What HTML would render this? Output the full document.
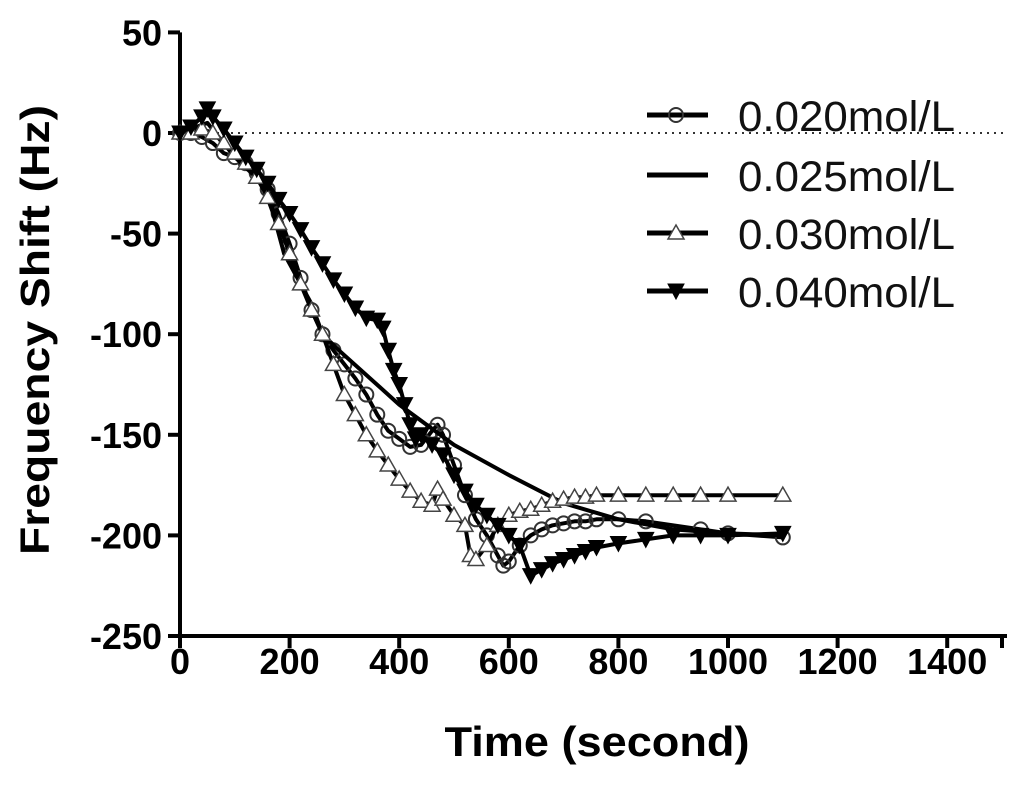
<!DOCTYPE html>
<html><head><meta charset="utf-8"><style>
body{margin:0;background:#fff;}
svg text{font-family:"Liberation Sans",Arial,sans-serif;}
</style></head><body>
<svg id="chart" width="1024" height="780" viewBox="0 0 1024 780" xmlns="http://www.w3.org/2000/svg">
<g id="axes"></g><g id="series"></g><g id="legend"></g>
</svg>
<script>
const xTicks=[0,200,400,600,800,1000,1200,1400];
const yTicks=[50,0,-50,-100,-150,-200,-250];
const t020=[0,20,40,60,80,100,120,140,160,180,200,220,240,260,280,300,320,340,360,380,400,420,440,460,470,480,500,520,540,560,580,590,600,620,640,660,680,700,720,740,760,800,850,950,1000,1100];
const v020=[0,0,-2,-5,-10,-12,-15,-20,-28,-40,-55,-72,-88,-100,-108,-115,-122,-130,-140,-148,-152,-156,-155,-148,-145,-150,-165,-180,-192,-200,-210,-215,-213,-205,-200,-197,-195,-194,-193,-193,-192,-192,-193,-197,-199,-201];
const t025=[0,50,100,150,170,190,210,240,260,290,400,500,600,700,800,900,1000,1100];
const v025=[0,5,-12,-25,-40,-60,-70,-85,-100,-108,-135,-155,-170,-184,-192,-197,-199,-200];
const t030=[0,20,40,60,80,100,120,140,160,180,200,220,240,260,280,300,320,340,360,380,400,420,440,460,470,480,500,520,530,540,560,580,600,620,640,660,680,700,720,740,760,800,850,900,950,1000,1100];
const v030=[0,0,2,0,-5,-10,-15,-22,-32,-45,-60,-75,-88,-100,-115,-130,-140,-150,-158,-165,-172,-178,-183,-185,-177,-182,-190,-195,-210,-212,-205,-195,-190,-188,-187,-185,-183,-182,-181,-181,-180,-180,-180,-180,-180,-180,-180];
const t040=[0,20,40,50,60,80,100,120,140,160,180,200,220,240,260,280,300,320,340,360,370,380,390,400,410,420,430,440,460,480,500,520,540,560,580,600,620,640,660,680,700,720,740,760,800,850,900,950,1000,1100];
const v040=[0,3,8,12,8,2,-5,-12,-18,-25,-33,-40,-48,-57,-65,-73,-80,-87,-92,-93,-97,-108,-118,-125,-135,-145,-152,-150,-155,-160,-170,-178,-185,-190,-195,-200,-205,-220,-217,-214,-212,-210,-208,-206,-204,-202,-200,-200,-200,-199];
const labels=["0.020mol/L","0.025mol/L","0.030mol/L","0.040mol/L"];

const NS="http://www.w3.org/2000/svg";
const X=t=>180+t*0.548;
const Y=v=>133-v*2.012;
function mk(tag,attrs,parent){const e=document.createElementNS(NS,tag);for(const k in attrs)e.setAttribute(k,attrs[k]);parent.appendChild(e);return e;}
const axes=document.getElementById('axes'),ser=document.getElementById('series'),leg=document.getElementById('legend');

let a=mk('line',{x1:180,y1:Y(50),x2:180,y2:Y(-250)+2,stroke:'#000','stroke-width':4},axes);


a=mk('line',{x1:178,y1:Y(-250),x2:1007,y2:Y(-250),stroke:'#000','stroke-width':4},axes);


a=mk('line',{x1:182,y1:Y(0),x2:1007,y2:Y(0),stroke:'#333','stroke-width':2,'stroke-dasharray':'2,5'},axes);


yTicks.forEach(v=>{
 let l=mk('line',{x1:168,y1:Y(v),x2:180,y2:Y(v),stroke:'#000','stroke-width':4},axes);
 
 
 let tx=mk('text',{x:162,y:Y(v)+13,'text-anchor':'end','font-size':36,'font-weight':'bold'},axes);
 tx.textContent=v;
 
 
});
xTicks.concat([1500]).forEach(t=>{
 let l=mk('line',{x1:X(t),y1:Y(-250),x2:X(t),y2:Y(-250)+12,stroke:'#000','stroke-width':4},axes);
 
 
});
xTicks.forEach(t=>{
 let tx=mk('text',{x:X(t),y:674,'text-anchor':'middle','font-size':36,'font-weight':'bold'},axes);
 tx.textContent=t;
 
 
});
let xt=mk('text',{x:597,y:756,'text-anchor':'middle','font-size':42,'font-weight':'bold',textLength:305,lengthAdjust:'spacingAndGlyphs'},axes);
xt.textContent='Time (second)';


let yt=mk('text',{x:0,y:0,'text-anchor':'middle','font-size':41,'font-weight':'bold',textLength:450,lengthAdjust:'spacingAndGlyphs',transform:'translate(49,330) rotate(-90)'},axes);
yt.textContent='Frequency Shift (Hz)';



function marker(type,x,y,g){
 let m;
 if(type==='circle')m=mk('circle',{cx:x,cy:y,r:7,fill:'#fff','fill-opacity':0,stroke:'#333','stroke-width':2},g);
 else if(type==='tri')m=mk('path',{d:`M${x},${y-8}L${x+8},${y+6}L${x-8},${y+6}Z`,fill:'#fff',stroke:'#444','stroke-width':1.5},g);
 else if(type==='dtri')m=mk('path',{d:`M${x-8},${y-7}L${x+8},${y-7}L${x},${y+8}Z`,fill:'#000',stroke:'#000','stroke-width':1},g);
 if(m){}
}
const series=[[t020,v020,'circle','series-0020'],[t025,v025,'none','series-0025'],[t030,v030,'tri','series-0030'],[t040,v040,'dtri','series-0040']];
series.forEach(([ts,vs,type,name])=>{
 const g=mk('g',{},ser);
 
 
 const d=ts.map((t,i)=>(i?'L':'M')+X(t).toFixed(1)+','+Y(vs[i]).toFixed(1)).join('');
 const p=mk('path',{d:d,fill:'none',stroke:'#000','stroke-width':4,'stroke-linejoin':'round'},g);
 
 
 ts.forEach((t,i)=>marker(type,X(t),Y(vs[i]),g));
});
const ly=[115,175,233,291];
labels.forEach((lab,i)=>{
 const g=mk('g',{},leg);
 
 
 mk('line',{x1:647,y1:ly[i],x2:708,y2:ly[i],stroke:'#000','stroke-width':5},g);
 marker(series[i][2],676,ly[i],g);
 const tx=mk('text',{x:738,y:ly[i]+16,'font-size':43,fill:'#111',textLength:217,lengthAdjust:'spacingAndGlyphs'},g);
 tx.textContent=lab;
});
</script>
</body></html>
